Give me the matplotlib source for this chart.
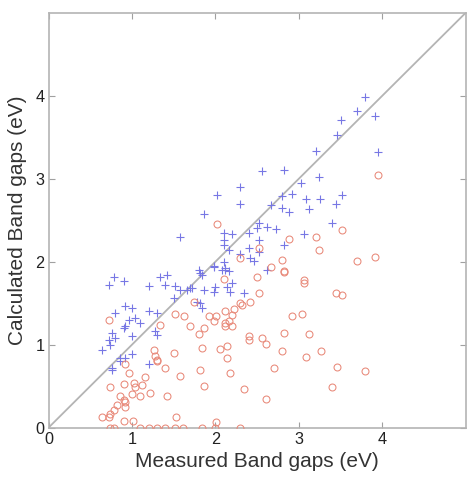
#!/usr/bin/env python3
# coding: utf-8

import matplotlib

matplotlib.use("Agg")
import matplotlib.pyplot as plt

# calculated gaps above the diagonal (blue +)
blue_x = [3.79, 3.70, 3.91, 3.50, 3.46, 3.95, 3.20, 3.24, 3.02, 2.92, 2.82, 2.56, 2.30, 2.02,
          2.30, 1.86, 1.58, 2.80, 3.08, 3.25, 3.44, 3.52, 2.66, 2.80, 2.88, 3.12, 3.40, 2.52,
          2.50, 2.62, 2.72, 2.40, 2.20, 2.10, 2.10, 2.10, 2.16, 2.52, 2.40, 2.30, 2.41, 2.52,
          2.82, 3.06, 1.98, 1.80, 1.84, 2.10, 2.12, 2.16, 2.62, 2.46, 1.98, 2.08,
          0.78, 0.90, 0.72, 1.20, 1.34, 1.42, 1.40, 1.52, 1.58, 1.66, 1.72, 1.82, 1.86, 2.00,
          1.98, 2.14, 2.20, 2.18, 2.34, 2.12, 1.50, 1.78, 1.84, 0.92, 1.00, 0.80, 0.96, 1.04,
          1.10, 1.20, 1.30, 0.92, 0.76, 0.90, 0.72, 0.64, 0.74, 1.00, 1.28, 1.30, 0.86, 0.92,
          1.00, 0.76, 0.76, 0.86, 1.20, 0.80, 1.70, 1.82]
blue_y = [3.98, 3.81, 3.76, 3.71, 3.53, 3.32, 3.33, 3.02, 2.95, 2.82, 3.11, 3.09, 2.90, 2.80,
          2.70, 2.57, 2.30, 2.79, 2.76, 2.76, 2.70, 2.80, 2.68, 2.65, 2.60, 2.64, 2.47, 2.46,
          2.41, 2.42, 2.39, 2.35, 2.33, 2.34, 2.26, 2.20, 2.14, 2.26, 2.16, 2.09, 2.05, 2.12,
          2.20, 2.33, 1.95, 1.90, 1.84, 2.00, 1.92, 1.89, 1.90, 2.01, 1.94, 1.90,
          1.82, 1.77, 1.72, 1.71, 1.82, 1.84, 1.72, 1.71, 1.66, 1.66, 1.68, 1.86, 1.66, 1.70,
          1.64, 1.70, 1.74, 1.64, 1.62, 1.90, 1.56, 1.52, 1.44, 1.47, 1.44, 1.38, 1.30, 1.32,
          1.26, 1.41, 1.38, 1.22, 1.14, 1.20, 1.06, 0.93, 1.00, 1.10, 1.16, 1.12, 0.84, 0.84,
          0.89, 0.72, 0.70, 0.80, 0.77, 1.08, 1.68, 1.50]

# calculated gaps below the diagonal (red o)
red_x = [3.95, 2.02, 2.88, 3.20, 3.24, 3.52, 2.52, 2.30, 2.80, 2.66, 2.82, 3.70, 3.91, 2.10,
         2.50, 3.06, 3.06, 2.52, 3.44, 3.52, 1.74, 2.30, 2.41, 2.12, 2.22, 2.20, 0.72, 1.52,
         1.62, 1.92, 2.01, 2.92, 3.04, 1.98, 2.12, 2.16, 2.12, 2.20, 1.34, 1.70, 1.86, 1.80,
         2.40, 2.40, 2.56, 2.61, 2.82, 3.12, 1.26, 1.28, 1.30, 1.50, 1.84, 2.06, 2.14, 2.14,
         2.80, 3.08, 3.26, 1.40, 1.82, 2.70, 3.46, 0.92, 1.30, 1.58, 2.18, 3.79, 0.96, 1.16,
         0.74, 0.90, 1.02, 1.04, 1.12, 1.00, 1.10, 1.22, 0.86, 0.90, 0.92, 1.42, 1.86, 2.34,
         2.61, 3.40, 0.82, 0.78, 0.92, 0.64, 0.72, 0.74, 0.90, 1.01, 1.53, 2.01, 2.82, 2.32,
         0.74, 0.78, 1.10, 1.20, 1.30, 1.40, 1.52, 1.61, 1.84, 2.00, 2.30]
red_y = [3.04, 2.45, 2.27, 2.30, 2.14, 2.38, 2.16, 2.04, 2.02, 1.93, 1.89, 2.01, 2.06, 1.79,
         1.81, 1.78, 1.74, 1.62, 1.62, 1.60, 1.52, 1.50, 1.51, 1.41, 1.43, 1.36, 1.30, 1.37,
         1.35, 1.35, 1.34, 1.35, 1.37, 1.28, 1.26, 1.28, 1.22, 1.22, 1.24, 1.22, 1.20, 1.13,
         1.10, 1.06, 1.08, 1.01, 1.14, 1.13, 0.93, 0.86, 0.82, 0.90, 0.96, 0.95, 0.98, 0.84,
         0.92, 0.85, 0.92, 0.72, 0.70, 0.72, 0.73, 0.77, 0.80, 0.62, 0.66, 0.68, 0.66, 0.61,
         0.49, 0.53, 0.54, 0.49, 0.51, 0.41, 0.38, 0.42, 0.38, 0.33, 0.31, 0.38, 0.50, 0.47,
         0.34, 0.49, 0.27, 0.21, 0.25, 0.13, 0.13, 0.17, 0.08, 0.08, 0.13, 0.07, 1.88, 1.48,
         0.00, 0.00, 0.00, 0.00, 0.00, 0.00, 0.00, 0.00, 0.00, 0.00, 0.00]

ticks = [0, 1, 2, 3, 4]
lims = [0, 5]

plt.rcParams["font.family"] = ["Liberation Sans", "DejaVu Sans"]
fig = plt.figure(figsize=(4.71, 4.82), dpi=100)
ax = fig.add_axes([0.103, 0.1127, 0.886, 0.861])

ax.plot(lims, lims, "-", color="#b4b4b4", lw=1.3, zorder=1)
ax.plot(blue_x, blue_y, "+", color="#7777e4", ms=6.2, mew=0.8, ls="none", zorder=2)
ax.plot(red_x, red_y, "o", color="#e88878", mfc="none", ms=5, mew=0.75, ls="none", zorder=3)

ax.set_xlim(lims)
ax.set_ylim(lims)
ax.set_xticks(ticks)
ax.set_yticks(ticks)
ax.tick_params(direction="in", length=4, width=0.8, color="#a0a0a0",
               top=True, right=True, labelsize=11.7, labelcolor="#222222", pad=3)
for s in ax.spines.values():
    s.set_color("#b4b4b4")
    s.set_linewidth(1.2)

ax.set_xlabel("Measured Band gaps (eV)", fontsize=15, color="#333333", labelpad=4)
ax.set_ylabel("Calculated Band gaps (eV)", fontsize=15, color="#333333", labelpad=6)

plt.savefig("out.png", dpi=100)
